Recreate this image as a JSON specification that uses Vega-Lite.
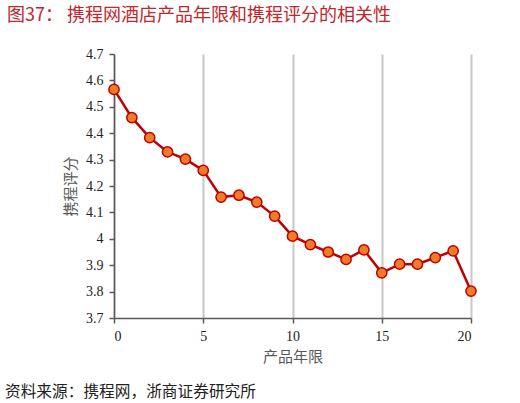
{
  "$schema": "https://vega.github.io/schema/vega-lite/v6.json",
  "background": "white",
  "padding": {"left": 5, "top": 7, "right": 5, "bottom": 5},
  "title": {
    "text": "图37：  携程网酒店产品年限和携程评分的相关性",
    "anchor": "start",
    "frame": "bounds",
    "color": "#c0272d",
    "font": "Noto Sans CJK SC",
    "fontSize": 18,
    "fontWeight": "normal",
    "offset": 22,
    "dx": 2
  },
  "vconcat": [
    {
      "width": 357,
      "height": 264,
      "title": {
        "text": "资料来源：携程网，浙商证券研究所",
        "orient": "bottom",
        "anchor": "start",
        "frame": "group",
        "dx": -109,
        "offset": 21,
        "color": "#222222",
        "font": "Noto Sans CJK SC",
        "fontSize": 15.7,
        "fontWeight": "normal"
      },
      "data": {
        "values": [
          {"years": 0, "score": 4.566},
          {"years": 1, "score": 4.459},
          {"years": 2, "score": 4.383},
          {"years": 3, "score": 4.329},
          {"years": 4, "score": 4.302},
          {"years": 5, "score": 4.259},
          {"years": 6, "score": 4.158},
          {"years": 7, "score": 4.165},
          {"years": 8, "score": 4.139},
          {"years": 9, "score": 4.086},
          {"years": 10, "score": 4.01},
          {"years": 11, "score": 3.978},
          {"years": 12, "score": 3.95},
          {"years": 13, "score": 3.922},
          {"years": 14, "score": 3.958},
          {"years": 15, "score": 3.871},
          {"years": 16, "score": 3.904},
          {"years": 17, "score": 3.904},
          {"years": 18, "score": 3.929},
          {"years": 19, "score": 3.954},
          {"years": 20, "score": 3.802}
        ]
      },
      "encoding": {
        "x": {
          "field": "years",
          "type": "quantitative",
          "scale": {"domain": [0, 20], "nice": false, "zero": false},
          "axis": {
            "title": "产品年限",
            "values": [0, 5, 10, 15, 20],
            "grid": true,
            "gridColor": "#c8c8c8",
            "gridWidth": 2,
            "domainColor": "#595959",
            "domainWidth": 1.5,
            "tickColor": "#595959",
            "tickWidth": 1.5,
            "tickSize": 5,
            "labelFont": "Liberation Serif",
            "labelFontSize": 14,
            "labelColor": "#222222",
            "labelPadding": 6,
            "titleFont": "Noto Sans CJK SC",
            "titleFontSize": 15,
            "titleFontWeight": "normal",
            "titleColor": "#595959",
            "titlePadding": 6
          }
        },
        "y": {
          "field": "score",
          "type": "quantitative",
          "scale": {"domain": [3.7, 4.7], "nice": false, "zero": false},
          "axis": {
            "title": "携程评分",
            "values": [3.7, 3.8, 3.9, 4.0, 4.1, 4.2, 4.3, 4.4, 4.5, 4.6, 4.7],
            "format": ".2~f",
            "grid": false,
            "domainColor": "#595959",
            "domainWidth": 1.5,
            "tickColor": "#595959",
            "tickWidth": 1.5,
            "tickSize": 5,
            "labelFont": "Liberation Serif",
            "labelFontSize": 14,
            "labelColor": "#222222",
            "labelPadding": 6,
            "titleFont": "Noto Sans CJK SC",
            "titleFontSize": 15,
            "titleFontWeight": "normal",
            "titleColor": "#595959",
            "titlePadding": 7
          }
        }
      },
      "layer": [
        {"mark": {"type": "line", "color": "#c00000", "strokeWidth": 2.5}},
        {"mark": {"type": "point", "filled": true, "fill": "#f07b28", "stroke": "#c00000", "strokeWidth": 1.5, "size": 105, "opacity": 1}}
      ]
    }
  ],
  "config": {"view": {"stroke": null}}
}
